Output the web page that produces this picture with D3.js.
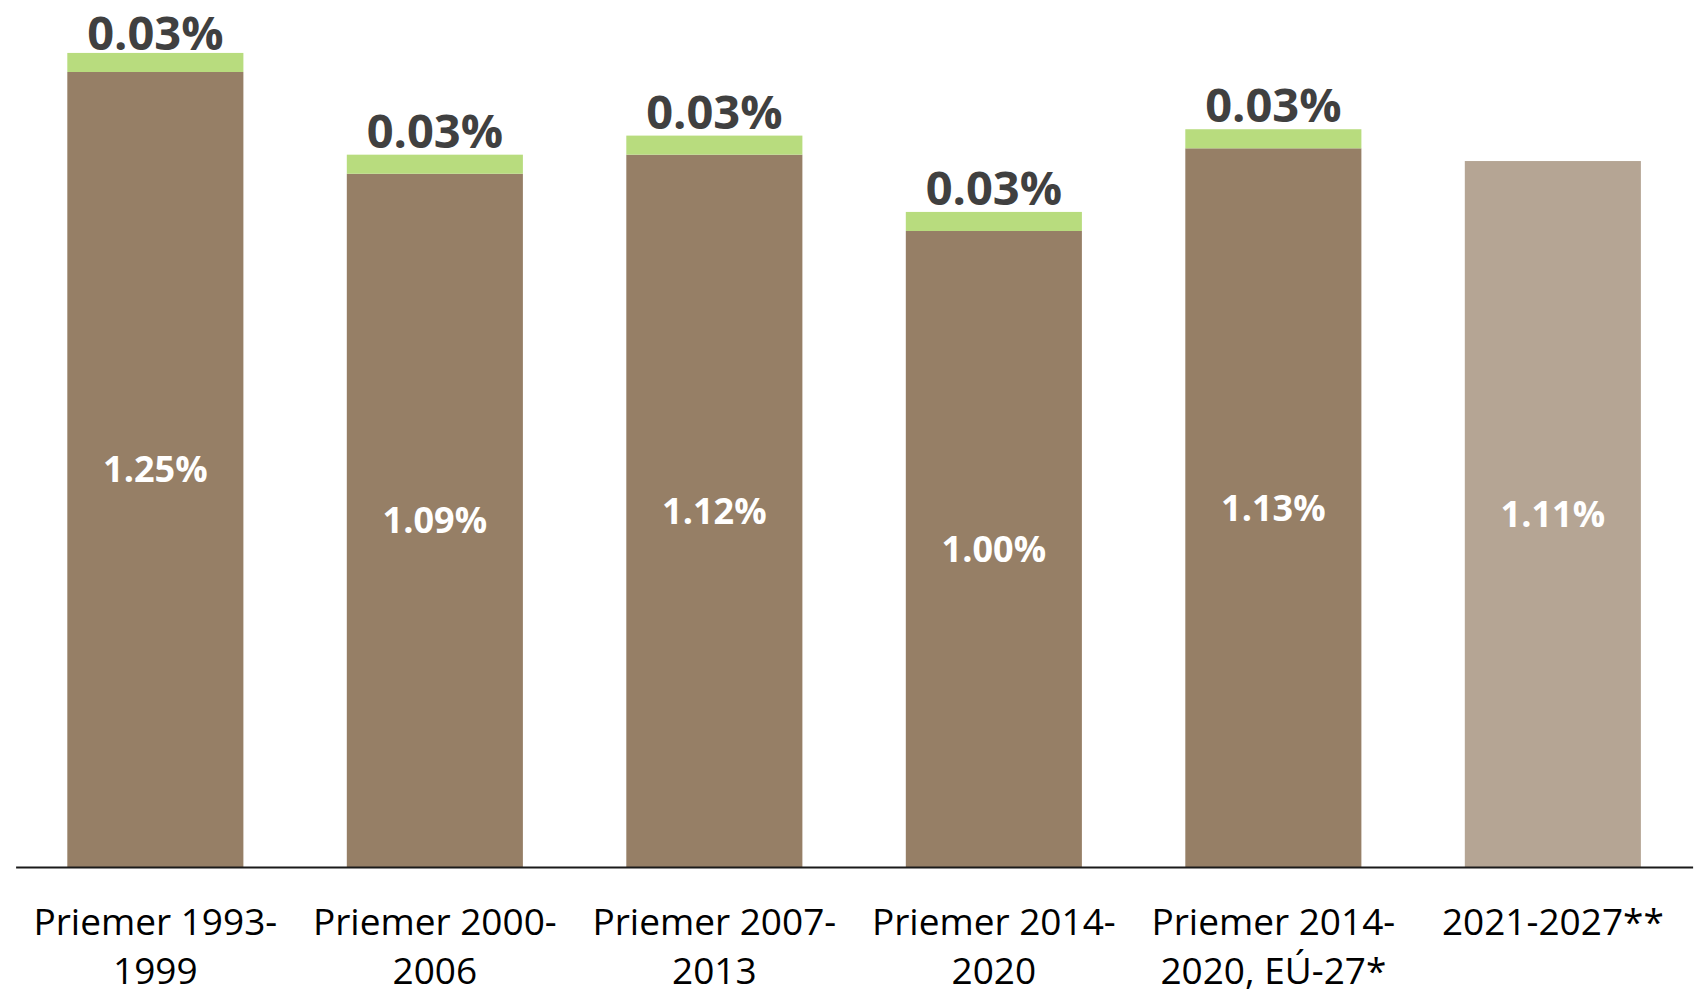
<!DOCTYPE html>
<html>
<head>
<meta charset="utf-8">
<script src="https://cdn.jsdelivr.net/npm/d3@7"></script>
<style>
  html, body { margin: 0; padding: 0; background: #ffffff; }
  svg { display: block; }
</style>
</head>
<body>
<svg id="chart" width="1701" height="995"></svg>
<script>
// ---- data ----
const categories = [
  "Priemer 1993-1999",
  "Priemer 2000-2006",
  "Priemer 2007-2013",
  "Priemer 2014-2020",
  "Priemer 2014-2020, EÚ-27*",
  "2021-2027**"
];
const baseValues = [1.25, 1.09, 1.12, 1.00, 1.13, 1.11];
const topValues  = [0.03, 0.03, 0.03, 0.03, 0.03, 0];
const baseLabels = ["1.25%", "1.09%", "1.12%", "1.00%", "1.13%", "1.11%"];
const topLabels  = ["0.03%", "0.03%", "0.03%", "0.03%", "0.03%", ""];
const projected  = [false, false, false, false, false, true];

// ---- styles ----
const colBase = "#967F66";
const colProjected = "#B5A594";
const colTop = "#B8DC7E";
const fontFamily = "'Open Sans', 'Noto Sans', sans-serif";

const svg = d3.select("#chart");

const x = d3.scaleBand()
  .domain(categories)
  .range([15.6, 1692.6])
  .paddingInner(0.37)
  .paddingOuter(0.185);

const y = d3.scaleLinear()
  .domain([0, 1.3])
  .range([867, 867 - 1.3 * 636]);

const rows = categories.map((c, i) => ({
  cat: c, base: baseValues[i], top: topValues[i],
  baseLabel: baseLabels[i], topLabel: topLabels[i], proj: projected[i]
}));

// base bars
svg.append("g").selectAll("rect")
  .data(rows).join("rect")
  .attr("x", d => x(d.cat))
  .attr("width", x.bandwidth())
  .attr("y", d => y(d.base))
  .attr("height", d => y(0) - y(d.base))
  .attr("fill", d => d.proj ? colProjected : colBase);

// top segments
svg.append("g").selectAll("rect")
  .data(rows.filter(d => d.top > 0)).join("rect")
  .attr("x", d => x(d.cat))
  .attr("width", x.bandwidth())
  .attr("y", d => y(d.base + d.top))
  .attr("height", d => y(d.base) - y(d.base + d.top))
  .attr("fill", colTop);

// base labels (white, centered inside)
const baseFs = 36;
svg.append("g").selectAll("text")
  .data(rows).join("text")
  .attr("x", d => x(d.cat) + x.bandwidth() / 2)
  .attr("y", d => (y(0) + y(d.base)) / 2 + baseFs * 0.357)
  .attr("text-anchor", "middle")
  .attr("font-family", fontFamily)
  .attr("font-weight", 700)
  .attr("font-size", baseFs)
  .attr("fill", "#ffffff")
  .text(d => d.baseLabel);

// top labels (dark, above) - kept inside the canvas
const topFs = 47;
svg.append("g").selectAll("text")
  .data(rows.filter(d => d.topLabel)).join("text")
  .attr("x", d => x(d.cat) + x.bandwidth() / 2)
  .attr("y", d => Math.max(y(d.base + d.top) - 7, topFs * 1.07))
  .attr("text-anchor", "middle")
  .attr("font-family", fontFamily)
  .attr("font-weight", 700)
  .attr("font-size", topFs)
  .attr("fill", "#404040")
  .text(d => d.topLabel);

// x axis
const axis = svg.append("g")
  .attr("transform", `translate(0,${y(0)})`)
  .call(d3.axisBottom(x).tickSize(0).tickPadding(0));

axis.select(".domain")
  .attr("stroke", "#1a1a1a")
  .attr("stroke-width", 2);

axis.selectAll(".tick text")
  .attr("font-family", fontFamily)
  .attr("font-size", 37)
  .attr("fill", "#000000")
  .attr("dy", null)
  .attr("y", 0)
  .each(function(d) {
    const t = d3.select(this);
    const full = d;
    const w = this.getComputedTextLength ? this.getComputedTextLength() : 0;
    let lines = [full];
    if (w > x.step() * 0.95) {
      const m = full.match(/^(.*?\d{4}-)(.*)$/);
      if (m) lines = [m[1], m[2]];
    }
    t.text(null);
    lines.forEach((ln, k) => {
      t.append("tspan")
        .attr("x", 0)
        .attr("y", 68 + k * 49)
        .text(ln);
    });
  });
</script>
</body>
</html>
